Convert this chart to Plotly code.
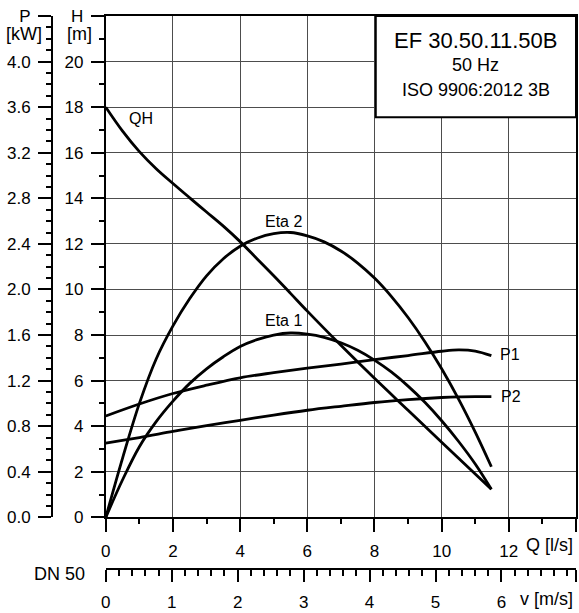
"""Pump performance chart: QH, efficiency and power curves for EF 30.50.11.50B."""

import math

import plotly.graph_objects as go

# ---- data ----
q_qh = [0, 0.5, 1, 1.5, 2, 2.5, 3, 3.5, 4, 4.5, 5, 5.5, 6, 7, 8, 9, 10, 11, 11.48]
h_qh = [18.0, 16.95, 16.05, 15.3, 14.65, 14.02, 13.4, 12.78, 12.1, 11.35, 10.6, 9.83,
        9.05, 7.55, 6.1, 4.7, 3.3, 1.9, 1.23]

q_eta = [0, 0.5, 1, 1.5, 2, 2.5, 3, 3.5, 4, 4.5, 5, 5.5, 6, 6.5, 7, 7.5, 8, 8.5,
         9, 9.5, 10, 10.5, 11, 11.48]
eta1 = [0, 8.25, 15.5, 21.0, 25.5, 29.4, 32.6, 35.25, 37.5, 39.0, 40.0, 40.45, 40.2,
        39.5, 38.3, 36.65, 34.5, 31.9, 28.8, 25.25, 21.2, 16.7, 11.7, 6.15]
eta2 = [0, 13.0, 25.0, 34.75, 42.0, 48.0, 53.0, 56.75, 59.5, 61.25, 62.25, 62.5, 61.75,
        60.45, 58.45, 55.8, 52.5, 48.5, 43.85, 38.55, 32.6, 26.0, 18.7, 11.1]

q_p = [0, 1, 2, 3, 4, 5, 6, 7, 8, 9, 10, 10.5, 11, 11.48]
p1 = [0.89, 0.995, 1.087, 1.16, 1.225, 1.27, 1.31, 1.345, 1.385, 1.42, 1.458, 1.47, 1.46, 1.42]
p2 = [0.652, 0.70, 0.754, 0.805, 0.852, 0.898, 0.94, 0.975, 1.008, 1.033, 1.052, 1.058, 1.06, 1.06]

q_ticks = [0, 2, 4, 6, 8, 10, 12, 14]
h_ticks = [0, 2, 4, 6, 8, 10, 12, 14, 16, 18, 20, 22]
p_ticks = [0.0, 0.4, 0.8, 1.2, 1.6, 2.0, 2.4, 2.8, 3.2, 3.6, 4.0, 4.4]
v_ticks = [0, 1, 2, 3, 4, 5, 6]

DN = 50
Q_MAX = 14
H_MAX = 22
P_MAX = 4.4
ETA_MAX = 110

# velocity in the discharge pipe for Q in l/s
v_per_q = 1e-3 / (math.pi / 4 * (DN / 1000) ** 2)
v_max = Q_MAX * v_per_q

W, H = 579, 613
L, R, T, B = 52, 1, 16, 40

FONT = "Liberation Sans, Arial, sans-serif"
LINE = dict(color="black", width=2.8, shape="spline", smoothing=1.0)

fig = go.Figure()
fig.add_trace(go.Scatter(x=q_qh, y=h_qh, mode="lines", line=LINE, name="QH"))
fig.add_trace(go.Scatter(x=q_eta, y=eta1, mode="lines", line=LINE, name="Eta 1", yaxis="y3"))
fig.add_trace(go.Scatter(x=q_eta, y=eta2, mode="lines", line=LINE, name="Eta 2", yaxis="y3"))
fig.add_trace(go.Scatter(x=q_p, y=p1, mode="lines", line=LINE, name="P1", yaxis="y2"))
fig.add_trace(go.Scatter(x=q_p, y=p2, mode="lines", line=LINE, name="P2", yaxis="y2"))
# carrier for the velocity scale
fig.add_trace(go.Scatter(x=[0, v_max], y=[None, None], xaxis="x2", mode="lines",
                         showlegend=False, hoverinfo="skip"))

y_dom = [52 / (H - T - B), 1]
x_dom = [54 / (W - L - R), 1]

TICKFONT = dict(family=FONT, size=17, color="black")

fig.update_layout(
    width=W,
    height=H,
    margin=dict(l=L, r=R, t=T, b=B),
    paper_bgcolor="white",
    plot_bgcolor="white",
    showlegend=False,
    font=dict(family=FONT, size=17, color="black"),
    xaxis=dict(
        domain=x_dom, range=[0, Q_MAX], anchor="y",
        tickmode="array", tickvals=q_ticks,
        ticktext=[str(t) for t in q_ticks[:-1]] + [""],
        tickfont=TICKFONT,
        ticks="outside", ticklen=13, tickwidth=2, tickcolor="black",
        ticklabelstandoff=4,
        minor=dict(tickmode="linear", tick0=0, dtick=1, ticks="outside",
                   ticklen=5, tickwidth=1.5, tickcolor="black", showgrid=False),
        showgrid=True, gridcolor="#4d4d4d", gridwidth=1,
        showline=True, linecolor="black", linewidth=2, mirror=True,
        zeroline=False,
    ),
    xaxis2=dict(
        overlaying="x", anchor="free", position=0, range=[0, v_max],
        tickmode="array", tickvals=v_ticks + [v_max],
        ticktext=[str(t) for t in v_ticks] + [""],
        tickfont=TICKFONT,
        ticks="outside", ticklen=12, tickwidth=2, tickcolor="black",
        ticklabelstandoff=6,
        minor=dict(tickmode="linear", tick0=0, dtick=0.2, ticks="outside",
                   ticklen=6, tickwidth=1.5, tickcolor="black", showgrid=False),
        showgrid=False, showline=True, linecolor="black", linewidth=2,
        zeroline=False,
    ),
    yaxis=dict(
        domain=y_dom, range=[0, H_MAX], anchor="x",
        tickmode="array", tickvals=h_ticks,
        ticktext=[str(t) for t in h_ticks[:-1]] + ["H"],
        tickfont=TICKFONT,
        ticks="outside", ticklen=13, tickwidth=2, tickcolor="black",
        ticklabelstandoff=4,
        minor=dict(tickmode="linear", tick0=0, dtick=1, ticks="outside",
                   ticklen=5, tickwidth=1.5, tickcolor="black", showgrid=False),
        showgrid=True, gridcolor="#4d4d4d", gridwidth=1,
        showline=True, linecolor="black", linewidth=2, mirror=True,
        zeroline=False,
    ),
    yaxis2=dict(
        domain=y_dom, overlaying="y", anchor="free", position=0, side="left",
        range=[0, P_MAX],
        tickmode="array", tickvals=p_ticks,
        ticktext=[f"{t:.1f}" for t in p_ticks[:-1]] + ["P"],
        tickfont=TICKFONT,
        ticks="outside", ticklen=13, tickwidth=2, tickcolor="black",
        ticklabelstandoff=4,
        minor=dict(tickmode="linear", tick0=0, dtick=0.1, ticks="outside",
                   ticklen=5, tickwidth=1.5, tickcolor="black", showgrid=False),
        showgrid=False, showline=True, linecolor="black", linewidth=2,
        zeroline=False,
    ),
    yaxis3=dict(domain=y_dom, overlaying="y", range=[0, ETA_MAX], visible=False),
)

# title block, white so the grid stops at its edge
fig.add_shape(type="rect", xref="x domain", yref="y domain",
              x0=271 / 472, x1=1, y0=(520 - 117) / 505, y1=1,
              fillcolor="white", line=dict(color="black", width=2), layer="above")


def label(text, q, h, size=16, xanchor="center"):
    fig.add_annotation(text=text, x=q, y=h, xref="x", yref="y", showarrow=False,
                       xanchor=xanchor, yanchor="middle",
                       font=dict(family=FONT, size=size, color="black"))


def side_label(text, px, py, size=18, xanchor="center"):
    # positions outside the axes, given in page pixels
    fig.add_annotation(text=text, x=(px - L) / (W - L - R), y=(H - B - py) / (H - T - B),
                       xref="paper", yref="paper", showarrow=False,
                       xanchor=xanchor, yanchor="middle",
                       font=dict(family=FONT, size=size, color="black"))


label("EF 30.50.11.50B", 11.02, 20.94, size=22)
label("50 Hz", 11.02, 19.83, size=18)
label("ISO 9906:2012 3B", 11.02, 18.74, size=18)

label("QH", 1.04, 17.5)
label("Eta 2", 5.3, 13.0)
label("Eta 1", 5.28, 8.63)
label("P1", 12.04, 7.15)
label("P2", 12.06, 5.32)

side_label("[kW]", 23.5, 34)
side_label("[m]", 79.5, 34)
side_label("Q [l/s]", 577, 549, xanchor="right")
side_label("v [m/s]", 577, 603, xanchor="right")
side_label(f"DN {DN}", 87, 578.5, xanchor="right")

fig.write_html("out.html", config={"displayModeBar": False},
               post_script="document.body.style.margin='0';")
